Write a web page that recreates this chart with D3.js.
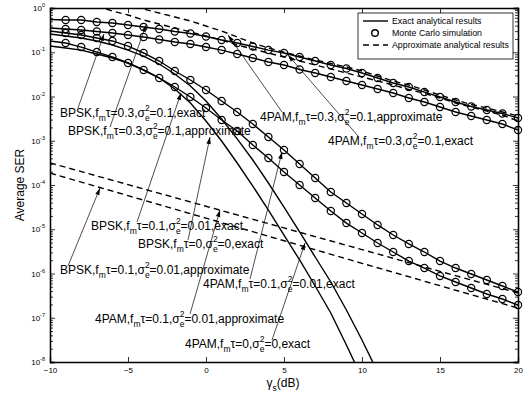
<!DOCTYPE html>
<html>
<head>
<meta charset="utf-8">
<script src="https://cdn.jsdelivr.net/npm/d3@7"></script>
<style>
  body { margin: 0; background: #fff; }
  svg { font-family: Arial, "Liberation Sans", Helvetica, sans-serif; }
</style>
</head>
<body>
<div id="chart"></div>
<script>
// SNR grid (dB) used by every curve
var snrDb = [-10,-9,-8,-7,-6,-5,-4,-3,-2,-1,0,1,2,3,4,5,6,7,8,9,10,11,12,13,14,15,16,17,18,19,20];

// exact analytical results (also the Monte Carlo points)
var pam03Exact  = [0.55,0.535,0.535,0.483,0.458,0.413,0.372,0.335,0.294,0.265,0.227,0.189,0.162,0.135,0.112,0.0962,0.0781,0.0634,0.0515,0.0429,0.034,0.0262,0.0202,0.0164,0.0126,0.00975,0.0075,0.00594,0.00495,0.00413,0.00327];
var bpsk03Exact = [0.353,0.335,0.318,0.294,0.272,0.245,0.221,0.194,0.17,0.154,0.131,0.112,0.0913,0.0741,0.0602,0.0515,0.0408,0.034,0.0276,0.0224,0.0182,0.0148,0.012,0.00925,0.00751,0.00579,0.00447,0.00362,0.00294,0.00239,0.00175];
var pam01Exact  = [0.302,0.272,0.245,0.21,0.18,0.138,0.0962,0.0634,0.0377,0.0236,0.014,0.00791,0.00447,0.00239,0.00122,6.18e-4,2.98e-4,1.44e-4,6.95e-5,3.92e-5,2.21e-5,1.25e-5,7.41e-6,4.65e-6,3.06e-6,1.91e-6,1.33e-6,9.75e-7,7.13e-7,5.22e-7,3.82e-7];
var bpsk01Exact = [0.18,0.162,0.131,0.101,0.0781,0.0571,0.0397,0.0262,0.0164,0.00975,0.0055,0.00294,0.00166,8.02e-4,4.07e-4,1.97e-4,1.0e-4,5.08e-5,2.58e-5,1.38e-5,8.22e-6,4.89e-6,3.06e-6,1.91e-6,1.33e-6,8.79e-7,6.43e-7,4.7e-7,3.44e-7,2.65e-7,1.94e-7];
// perfect CSI, no Doppler (solid, no markers)
var snrPerfect  = [-10,-9,-8,-7,-6,-5,-4,-3,-2,-1,0,1,2,3,4,5,6,7,8,9,10,11];
var bpsk0Exact  = [0.138,0.125,0.112,0.0913,0.0741,0.0571,0.0397,0.0262,0.0148,0.00713,0.00279,9.87e-4,3.14e-4,9.48e-5,2.72e-5,7.41e-6,2.02e-6,5.22e-7,1.28e-7,2.42e-8,4.35e-9,1e-9];
var pam0Exact   = [0.258,0.233,0.21,0.18,0.146,0.112,0.0822,0.0542,0.0322,0.0173,0.00791,0.0031,0.0011,3.67e-4,1.11e-4,3.18e-5,8.67e-6,2.36e-6,6.43e-7,1.5e-7,3.14e-8,5.94e-9];
// approximate analytical results (dashed)
var pam03Approx  = [4.76,3.67,2.83,2.18,1.68,1.23,0.949,0.771,0.626,0.508,0.392,0.302,0.221,0.162,0.125,0.101,0.0822,0.0668,0.0557,0.0465,0.0377,0.029,0.0224,0.0182,0.014,0.0108,0.00834,0.00659,0.0055,0.00447,0.00362];
var bpsk03Approx = [2.83,2.07,1.52,1.11,0.855,0.695,0.535,0.435,0.353,0.287,0.233,0.189,0.146,0.118,0.0962,0.0781,0.0634,0.0515,0.0418,0.034,0.0276,0.0224,0.0182,0.0144,0.0117,0.00925,0.00713,0.00579,0.0047,0.00382,0.00279];
var snrApprox01  = [-10,-5,0,5,10,15,20];
var pam01Approx  = [3.16e-4,1.02e-4,3.31e-5,1.07e-5,3.47e-6,1.12e-6,3.63e-7];
var bpsk01Approx = [1.86e-4,5.75e-5,1.78e-5,5.5e-6,1.7e-6,5.3e-7,1.66e-7];

var xTicks = [-10,-5,0,5,10,15,20];
var yExps  = [0,-1,-2,-3,-4,-5,-6,-7,-8];

var width = 528, height = 398;
var margin = {top: 8, right: 10, bottom: 36, left: 50};
var iw = width - margin.left - margin.right,
    ih = height - margin.top - margin.bottom;

var svg = d3.select("#chart").append("svg")
    .attr("width", width).attr("height", height);

var x = d3.scaleLinear().domain([-10, 20]).range([margin.left, margin.left + iw]);
var y = d3.scaleLog().domain([1e-8, 1]).range([margin.top + ih, margin.top]);

svg.append("defs").append("clipPath").attr("id", "plotClip")
  .append("rect").attr("x", margin.left).attr("y", margin.top).attr("width", iw).attr("height", ih);

// axes: ticks point inward, box all round
var minorVals = [];
yExps.forEach(function(e) {
  if (e === 0) return;
  for (var k = 2; k <= 9; k++) minorVals.push(k * Math.pow(10, e));
});

var gx = svg.append("g").attr("transform", "translate(0," + (margin.top + ih) + ")")
  .call(d3.axisBottom(x).tickValues(xTicks).tickSize(-5).tickPadding(5).tickFormat(d3.format("d")));
svg.append("g").attr("transform", "translate(0," + margin.top + ")")
  .call(d3.axisTop(x).tickValues(xTicks).tickSize(-5).tickFormat(""));
var gy = svg.append("g").attr("transform", "translate(" + margin.left + ",0)")
  .call(d3.axisLeft(y).tickValues(yExps.map(function(e){ return Math.pow(10, e); })).tickSize(-5).tickPadding(5).tickFormat(""));
svg.append("g").attr("transform", "translate(" + margin.left + ",0)")
  .call(d3.axisLeft(y).tickValues(minorVals).tickSize(-3).tickFormat(""));
svg.append("g").attr("transform", "translate(" + (margin.left + iw) + ",0)")
  .call(d3.axisRight(y).tickValues(yExps.map(function(e){ return Math.pow(10, e); })).tickSize(-5).tickFormat(""));
svg.append("g").attr("transform", "translate(" + (margin.left + iw) + ",0)")
  .call(d3.axisRight(y).tickValues(minorVals).tickSize(-3).tickFormat(""));

svg.selectAll(".domain").attr("stroke", "#000").attr("stroke-width", 1.3);
svg.selectAll(".tick line").attr("stroke", "#000").attr("stroke-width", 0.8);
gx.selectAll("text").attr("font-size", 8).attr("fill", "#000").attr("font-family", "Arial, 'Liberation Sans', sans-serif");

// 10^k labels
gy.selectAll(".tick").each(function(d) {
  var t = d3.select(this).append("text")
    .attr("x", -5).attr("dy", "0.32em").attr("text-anchor", "end")
    .attr("fill", "#000").attr("font-size", 8);
  t.append("tspan").text("10");
  t.append("tspan").attr("dy", -4).attr("font-size", 5.5).text(Math.round(Math.log10(d)));
});

// axis titles
svg.append("text").attr("x", 283).attr("y", 387).attr("text-anchor", "middle")
  .attr("font-size", 12).attr("fill", "#000")
  .call(function(t) {
    t.append("tspan").text("\u03b3");
    t.append("tspan").attr("font-size", 8.5).attr("dy", 4).text("s");
    t.append("tspan").attr("dy", -4).text("(dB)");
  });
svg.append("text").attr("transform", "translate(24," + (margin.top + ih / 2) + ") rotate(-90)")
  .attr("text-anchor", "middle").attr("font-size", 12).attr("fill", "#000").text("Average SER");

// curves
var plot = svg.append("g").attr("clip-path", "url(#plotClip)");
var line = d3.line().x(function(d){ return x(d[0]); }).y(function(d){ return y(d[1]); });
function pairs(xs, ys) { return xs.map(function(v, i){ return [v, ys[i]]; }); }

var solidSeries = [pam03Exact, bpsk03Exact, pam01Exact, bpsk01Exact];
var dashedSeries = [
  pairs(snrDb, pam03Approx), pairs(snrDb, bpsk03Approx),
  pairs(snrApprox01, pam01Approx), pairs(snrApprox01, bpsk01Approx)
];

dashedSeries.forEach(function(s) {
  plot.append("path").attr("d", line(s)).attr("fill", "none")
    .attr("stroke", "#000").attr("stroke-width", 1.4).attr("stroke-dasharray", "6,4");
});
[pairs(snrPerfect, bpsk0Exact), pairs(snrPerfect, pam0Exact)].forEach(function(s) {
  plot.append("path").attr("d", line(s)).attr("fill", "none")
    .attr("stroke", "#000").attr("stroke-width", 1.4);
});
solidSeries.forEach(function(vals) {
  var s = pairs(snrDb, vals);
  plot.append("path").attr("d", line(s)).attr("fill", "none")
    .attr("stroke", "#000").attr("stroke-width", 1.4);
});
// Monte Carlo markers (from -9 dB)
solidSeries.forEach(function(vals) {
  var s = pairs(snrDb, vals).filter(function(d){ return d[0] >= -9; });
  svg.append("g").selectAll("circle").data(s).enter().append("circle")
    .attr("cx", function(d){ return x(d[0]); }).attr("cy", function(d){ return y(d[1]); })
    .attr("r", 3.6).attr("fill", "none").attr("stroke", "#000").attr("stroke-width", 1.2);
});

// annotations: label position, arrow tail and arrow head (pixels)
var notes = [
  {mod: "BPSK", ft: "0.3", se: "0.1",  kind: "exact",       tx: 60,  ty: 117, ax: 78,  ay: 108, hx: 104, hy: 34},
  {mod: "BPSK", ft: "0.3", se: "0.1",  kind: "approximate", tx: 68,  ty: 135, ax: 110, ay: 127, hx: 146, hy: 25},
  {mod: "4PAM", ft: "0.3", se: "0.1",  kind: "approximate", tx: 260, ty: 121, ax: 282, ay: 112, hx: 228, hy: 35},
  {mod: "4PAM", ft: "0.3", se: "0.1",  kind: "exact",       tx: 328, ty: 145, ax: 358, ay: 136, hx: 288, hy: 55},
  {mod: "BPSK", ft: "0.1", se: "0.01", kind: "exact",       tx: 91,  ty: 230, ax: 137, ay: 222, hx: 181, hy: 93},
  {mod: "BPSK", ft: "0",   se: "0",    kind: "exact",       tx: 138, ty: 248, ax: 188, ay: 240, hx: 210, hy: 137},
  {mod: "BPSK", ft: "0.1", se: "0.01", kind: "approximate", tx: 60,  ty: 274, ax: 68,  ay: 266, hx: 100, hy: 188},
  {mod: "4PAM", ft: "0.1", se: "0.01", kind: "exact",       tx: 203, ty: 288, ax: 250, ay: 279, hx: 282, hy: 152},
  {mod: "4PAM", ft: "0.1", se: "0.01", kind: "approximate", tx: 95,  ty: 323, ax: 190, ay: 314, hx: 220, hy: 210},
  {mod: "4PAM", ft: "0",   se: "0",    kind: "exact",       tx: 185, ty: 348, ax: 272, ay: 340, hx: 305, hy: 243}
];

var ann = svg.append("g");
notes.forEach(function(n) {
  ann.append("line").attr("x1", n.ax).attr("y1", n.ay).attr("x2", n.hx).attr("y2", n.hy)
    .attr("stroke", "#000").attr("stroke-width", 0.7);
  var ang = Math.atan2(n.hy - n.ay, n.hx - n.ax) * 180 / Math.PI;
  ann.append("path").attr("d", "M0,0L-7,-2.2L-7,2.2Z").attr("fill", "#000")
    .attr("transform", "translate(" + n.hx + "," + n.hy + ") rotate(" + ang + ")");

  var t = ann.append("text").attr("x", n.tx).attr("y", n.ty).attr("font-size", 12).attr("fill", "#000");
  t.append("tspan").text(n.mod + ",f");
  t.append("tspan").attr("font-size", 8.5).attr("dy", 4).text("m");
  t.append("tspan").attr("dy", -4).text("\u03c4=" + n.ft + ",\u03c3");
  t.append("tspan").attr("font-size", 8.5).attr("dy", 4).text("e");
  t.append("tspan").attr("font-size", 8.5).attr("dx", -4.8).attr("dy", -10).text("2");
  t.append("tspan").attr("dy", 6).text("=" + n.se + "," + n.kind);
});

// legend
var lg = svg.append("g");
lg.append("rect").attr("x", 358).attr("y", 13).attr("width", 155).attr("height", 46)
  .attr("fill", "#fff").attr("stroke", "#000").attr("stroke-width", 0.8);
var legendItems = [
  {label: "Exact analytical results", type: "solid"},
  {label: "Monte Carlo simulation", type: "marker"},
  {label: "Approximate analytical results", type: "dashed"}
];
legendItems.forEach(function(it, i) {
  var yy = 21 + i * 12;
  if (it.type === "marker") {
    lg.append("circle").attr("cx", 375).attr("cy", yy).attr("r", 3.3)
      .attr("fill", "none").attr("stroke", "#000").attr("stroke-width", 1.4);
  } else {
    lg.append("line").attr("x1", 363).attr("x2", 388).attr("y1", yy).attr("y2", yy)
      .attr("stroke", "#000").attr("stroke-width", 1.4)
      .attr("stroke-dasharray", it.type === "dashed" ? "6,4" : null);
  }
  lg.append("text").attr("x", 392).attr("y", yy).attr("dy", "0.33em")
    .attr("font-size", 8.8).attr("fill", "#000").text(it.label);
});
</script>
</body>
</html>
